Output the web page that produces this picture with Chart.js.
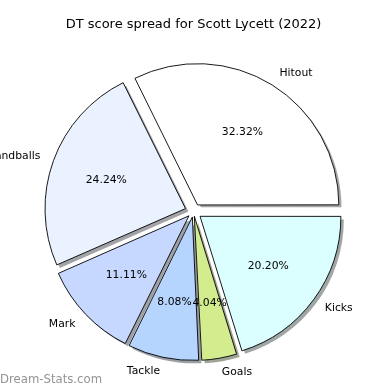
<!DOCTYPE html>
<html>
<head>
<meta charset="utf-8">
<script src="https://cdn.jsdelivr.net/npm/chart.js@4.4.0/dist/chart.umd.min.js"></script>
<style>
  html, body { margin: 0; padding: 0; background: #fff; }
  #wrap { width: 390px; height: 390px; position: relative; }
</style>
</head>
<body>
<div id="wrap"><canvas id="pie"></canvas></div>
<script>
// data, in the order the slices go round (counter-clockwise from 3 o'clock)
var categories = ['Hitout', 'Handballs', 'Mark', 'Tackle', 'Goals', 'Kicks'];
var points = [32, 24, 11, 8, 4, 20];
var colours = ['#ffffff', '#eaf1ff', '#c6d8ff', '#b5d5ff', '#d2ec8e', '#dbffff'];

var EXPLODE = 8.5;    // px each wedge is pushed out
var RADIUS = 140.5;
var FONT = 'DejaVu Sans';

// chart.js goes clockwise, so feed it reversed and start at 3 o'clock
var labels = categories.slice().reverse();
var values = points.slice().reverse();
var fills = colours.slice().reverse();

var total = values.reduce(function (a, b) { return a + b; }, 0);

// chart.js moves an arc by offset/4*(2-sin(c)); undo that so all move EXPLODE px
var offsets = values.map(function (v) {
  var c = Math.min(Math.PI, 2 * Math.PI * v / total);
  return 4 * EXPLODE / (2 - Math.sin(c));
});

function shade(hex) {
  var r = parseInt(hex.substr(1, 2), 16), g = parseInt(hex.substr(3, 2), 16), b = parseInt(hex.substr(5, 2), 16);
  return 'rgba(' + Math.round(r * 0.3) + ',' + Math.round(g * 0.3) + ',' + Math.round(b * 0.3) + ',0.5)';
}

var shadowPlugin = {
  id: 'shadows',
  beforeDatasetsDraw: function (chart) {
    var ctx = chart.ctx;
    var arcs = chart.getDatasetMeta(0).data;
    ctx.save();
    arcs.forEach(function (arc, i) {
      var p = arc.getProps(['x', 'y', 'startAngle', 'endAngle', 'outerRadius']);
      var mid = (p.startAngle + p.endAngle) / 2;
      var cx = p.x + Math.cos(mid) * EXPLODE + 3;
      var cy = p.y + Math.sin(mid) * EXPLODE + 3;
      ctx.beginPath();
      ctx.moveTo(cx, cy);
      ctx.arc(cx, cy, p.outerRadius, p.startAngle, p.endAngle);
      ctx.closePath();
      ctx.fillStyle = shade(fills[i]);
      ctx.fill();
    });
    ctx.restore();
  }
};

var textPlugin = {
  id: 'wedgeText',
  afterDatasetsDraw: function (chart) {
    var ctx = chart.ctx;
    var arcs = chart.getDatasetMeta(0).data;
    ctx.save();
    ctx.font = '10.8px "' + FONT + '"';
    ctx.fillStyle = '#000';
    ctx.textBaseline = 'middle';
    arcs.forEach(function (arc, i) {
      var p = arc.getProps(['x', 'y', 'startAngle', 'endAngle', 'outerRadius']);
      var mid = (p.startAngle + p.endAngle) / 2;
      var dx = Math.cos(mid), dy = Math.sin(mid);
      // category name outside
      var lr = p.outerRadius * 1.1 + EXPLODE;
      ctx.textAlign = dx >= 0 ? 'left' : 'right';
      ctx.fillText(labels[i], p.x + dx * lr, p.y + dy * lr);
      // percentage inside
      var pr = p.outerRadius * 0.6 + EXPLODE;
      ctx.textAlign = 'center';
      ctx.fillText((values[i] / total * 100).toFixed(2) + '%', p.x + dx * pr, p.y + dy * pr);
    });
    ctx.restore();
  },
  afterDraw: function (chart) {
    var ctx = chart.ctx;
    ctx.save();
    ctx.font = '11.7px "' + FONT + '"';
    ctx.fillStyle = 'rgba(120,120,120,0.8)';
    ctx.textAlign = 'left';
    ctx.textBaseline = 'middle';
    ctx.fillText('Dream-Stats.com', 0, 380);
    ctx.restore();
  }
};

new Chart(document.getElementById('pie'), {
  type: 'pie',
  data: {
    labels: labels,
    datasets: [{
      data: values,
      backgroundColor: fills,
      borderColor: '#000',
      borderWidth: 0.9,
      borderJoinStyle: 'miter',
      offset: offsets,
      hoverOffset: 0
    }]
  },
  options: {
    responsive: true,
    maintainAspectRatio: false,
    animation: false,
    rotation: 90,
    radius: RADIUS,
    layout: { padding: { left: 0, right: 3, top: 0, bottom: 7 } },
    events: [],
    plugins: {
      legend: { display: false },
      tooltip: { enabled: false },
      title: {
        display: true,
        text: 'DT score spread for Scott Lycett (2022)',
        color: '#000',
        font: { family: FONT, size: 13, weight: 'normal', lineHeight: 1.2 },
        padding: { top: 17, bottom: 7.4 }
      }
    }
  },
  plugins: [shadowPlugin, textPlugin]
});
</script>
</body>
</html>
